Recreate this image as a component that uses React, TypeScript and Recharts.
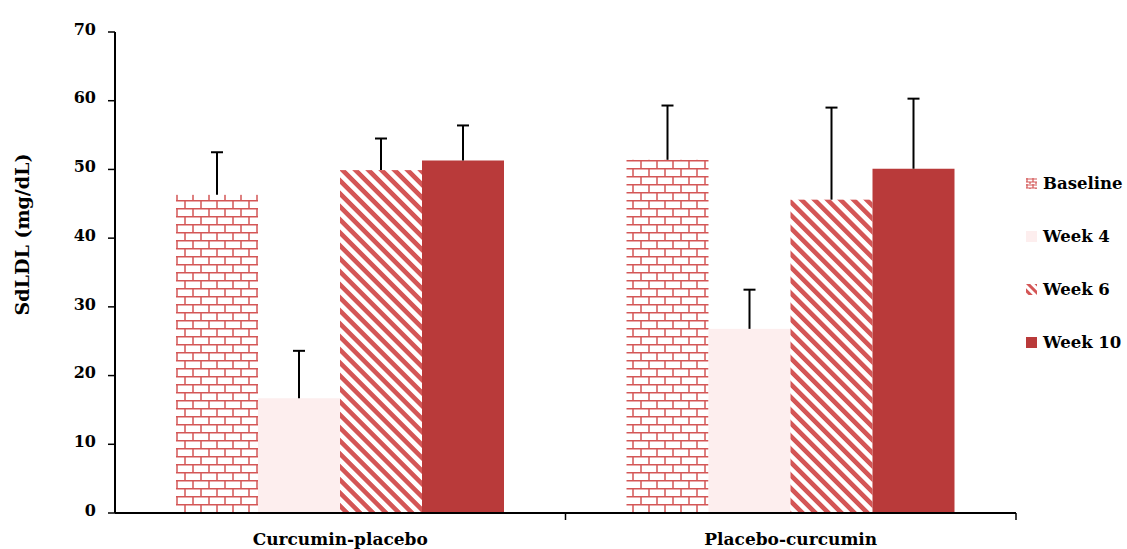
import { BarChart, Bar, XAxis, YAxis, Legend, Label } from 'recharts';

const categories = ['Curcumin-placebo', 'Placebo-curcumin'];
const seriesNames = ['Baseline', 'Week 4', 'Week 6', 'Week 10'];
const baseline = [46.3, 51.4];
const baselineSd = [6.2, 7.9];
const week4 = [16.7, 26.8];
const week4Sd = [6.9, 5.7];
const week6 = [49.9, 45.6];
const week6Sd = [4.6, 13.4];
const week10 = [51.3, 50.1];
const week10Sd = [5.1, 10.2];
const yTicks = [0, 10, 20, 30, 40, 50, 60, 70];

const data = categories.map((name, i) => ({
  name,
  baseline: baseline[i],
  baselineSd: baselineSd[i],
  week4: week4[i],
  week4Sd: week4Sd[i],
  week6: week6[i],
  week6Sd: week6Sd[i],
  week10: week10[i],
  week10Sd: week10Sd[i],
}));

const RED = '#b93a3a';
const BRICK = '#d45656';
const PINK = '#fdeeee';
const FONT = '"DejaVu Serif", serif';

const series = [
  { key: 'baseline', sd: 'baselineSd', fill: 'url(#brick)' },
  { key: 'week4', sd: 'week4Sd', fill: PINK },
  { key: 'week6', sd: 'week6Sd', fill: 'url(#stripes)' },
  { key: 'week10', sd: 'week10Sd', fill: RED },
];

// bar plus a one-sided (upper) error bar
const barWithError = (sdKey: string) => (props: any) => {
  const { x, y, width, height, fill, payload, value } = props;
  const v = Array.isArray(value) ? value[1] - value[0] : value;
  const errPx = v ? (payload[sdKey] * height) / v : 0;
  const cx = x + width / 2;
  return (
    <g>
      <rect x={x} y={y} width={width} height={height} fill={fill} />
      <line x1={cx} y1={y} x2={cx} y2={y - errPx} stroke="#000" strokeWidth={2} />
      <line x1={cx - 6} y1={y - errPx} x2={cx + 6} y2={y - errPx} stroke="#000" strokeWidth={2} />
    </g>
  );
};

const PLOT_W = 1127 - 115 - 111;

const CategoryTick = (props: any) => {
  const { x, y, payload } = props;
  const half = PLOT_W / categories.length / 2;
  return (
    <g>
      <line x1={x + half} y1={y - 8} x2={x + half} y2={y - 1} stroke="#000" strokeWidth={1.5} />
      <text x={x} y={y + 24} textAnchor="middle" fontFamily={FONT} fontWeight="bold" fontSize={17} fill="#000">
        {payload.value}
      </text>
    </g>
  );
};

const swatchFills = ['url(#brickSmall)', PINK, 'url(#stripesSmall)', RED];

const LegendContent = () => (
  <div style={{ fontFamily: FONT, fontWeight: 'bold', fontSize: 16.5, color: '#000' }}>
    {seriesNames.map((name, i) => (
      <div key={name} style={{ display: 'flex', alignItems: 'center', height: 53 }}>
        <svg width={11} height={11} style={{ marginRight: 6 }}>
          <rect x={0} y={0} width={11} height={11} fill={swatchFills[i]} />
        </svg>
        <span>{name}</span>
      </div>
    ))}
  </div>
);

export default function App() {
  return (
    <div style={{ position: 'absolute', left: 0, top: 0, background: '#fff' }}>
      <BarChart
        width={1127}
        height={549}
        data={data}
        margin={{ top: 32, right: 111, left: 40, bottom: 0 }}
        barCategoryGap={61}
        barGap={0}
      >
        <defs>
          <pattern id="brick" width={16} height={16} patternUnits="userSpaceOnUse">
            <rect width={16} height={16} fill="#fff" />
            <path d="M0 0.75H16M0 8.75H16M1 0V8.75M9 8.75V16" stroke={BRICK} strokeWidth={1.5} fill="none" />
          </pattern>
          <pattern id="brickSmall" width={6} height={6} patternUnits="userSpaceOnUse">
            <rect width={6} height={6} fill="#fff" />
            <path d="M0 1H6M0 4H6M1 0V4M4 4V6" stroke={BRICK} strokeWidth={1.2} fill="none" />
          </pattern>
          <pattern id="stripes" width={9.2} height={9.2} patternUnits="userSpaceOnUse" patternTransform="rotate(-45)">
            <rect width={9.2} height={9.2} fill="#fff" />
            <rect width={4.6} height={9.2} fill={BRICK} />
          </pattern>
          <pattern id="stripesSmall" width={6} height={6} patternUnits="userSpaceOnUse" patternTransform="rotate(-45)">
            <rect width={6} height={6} fill="#fff" />
            <rect width={3} height={6} fill={BRICK} />
          </pattern>
        </defs>
        <XAxis
          dataKey="name"
          height={36}
          axisLine={{ stroke: '#000', strokeWidth: 2 }}
          tickLine={false}
          tick={<CategoryTick />}
          interval={0}
        />
        <YAxis
          width={75}
          domain={[0, 70]}
          ticks={yTicks}
          axisLine={{ stroke: '#000', strokeWidth: 2 }}
          tickLine={{ stroke: '#000', strokeWidth: 1.5 }}
          tickSize={7}
          tickMargin={12}
          tick={{ fontFamily: FONT, fontWeight: 'bold', fontSize: 16, fill: '#000', dy: -3 }}
        >
          <Label
            value="SdLDL (mg/dL)"
            angle={-90}
            position="insideLeft"
            offset={-18}
            dy={-38}
            style={{ fontFamily: FONT, fontWeight: 'bold', fontSize: 19, fill: '#000', textAnchor: 'middle' }}
          />
        </YAxis>
        <Legend
          layout="horizontal"
          verticalAlign="middle"
          content={<LegendContent />}
          wrapperStyle={{ position: 'absolute', left: 1026, top: 157, width: 110 }}
        />
        {series.map((s, i) => (
          <Bar
            key={s.key}
            dataKey={s.key}
            name={seriesNames[i]}
            fill={s.fill}
            shape={barWithError(s.sd)}
            isAnimationActive={false}
          />
        ))}
      </BarChart>
    </div>
  );
}
